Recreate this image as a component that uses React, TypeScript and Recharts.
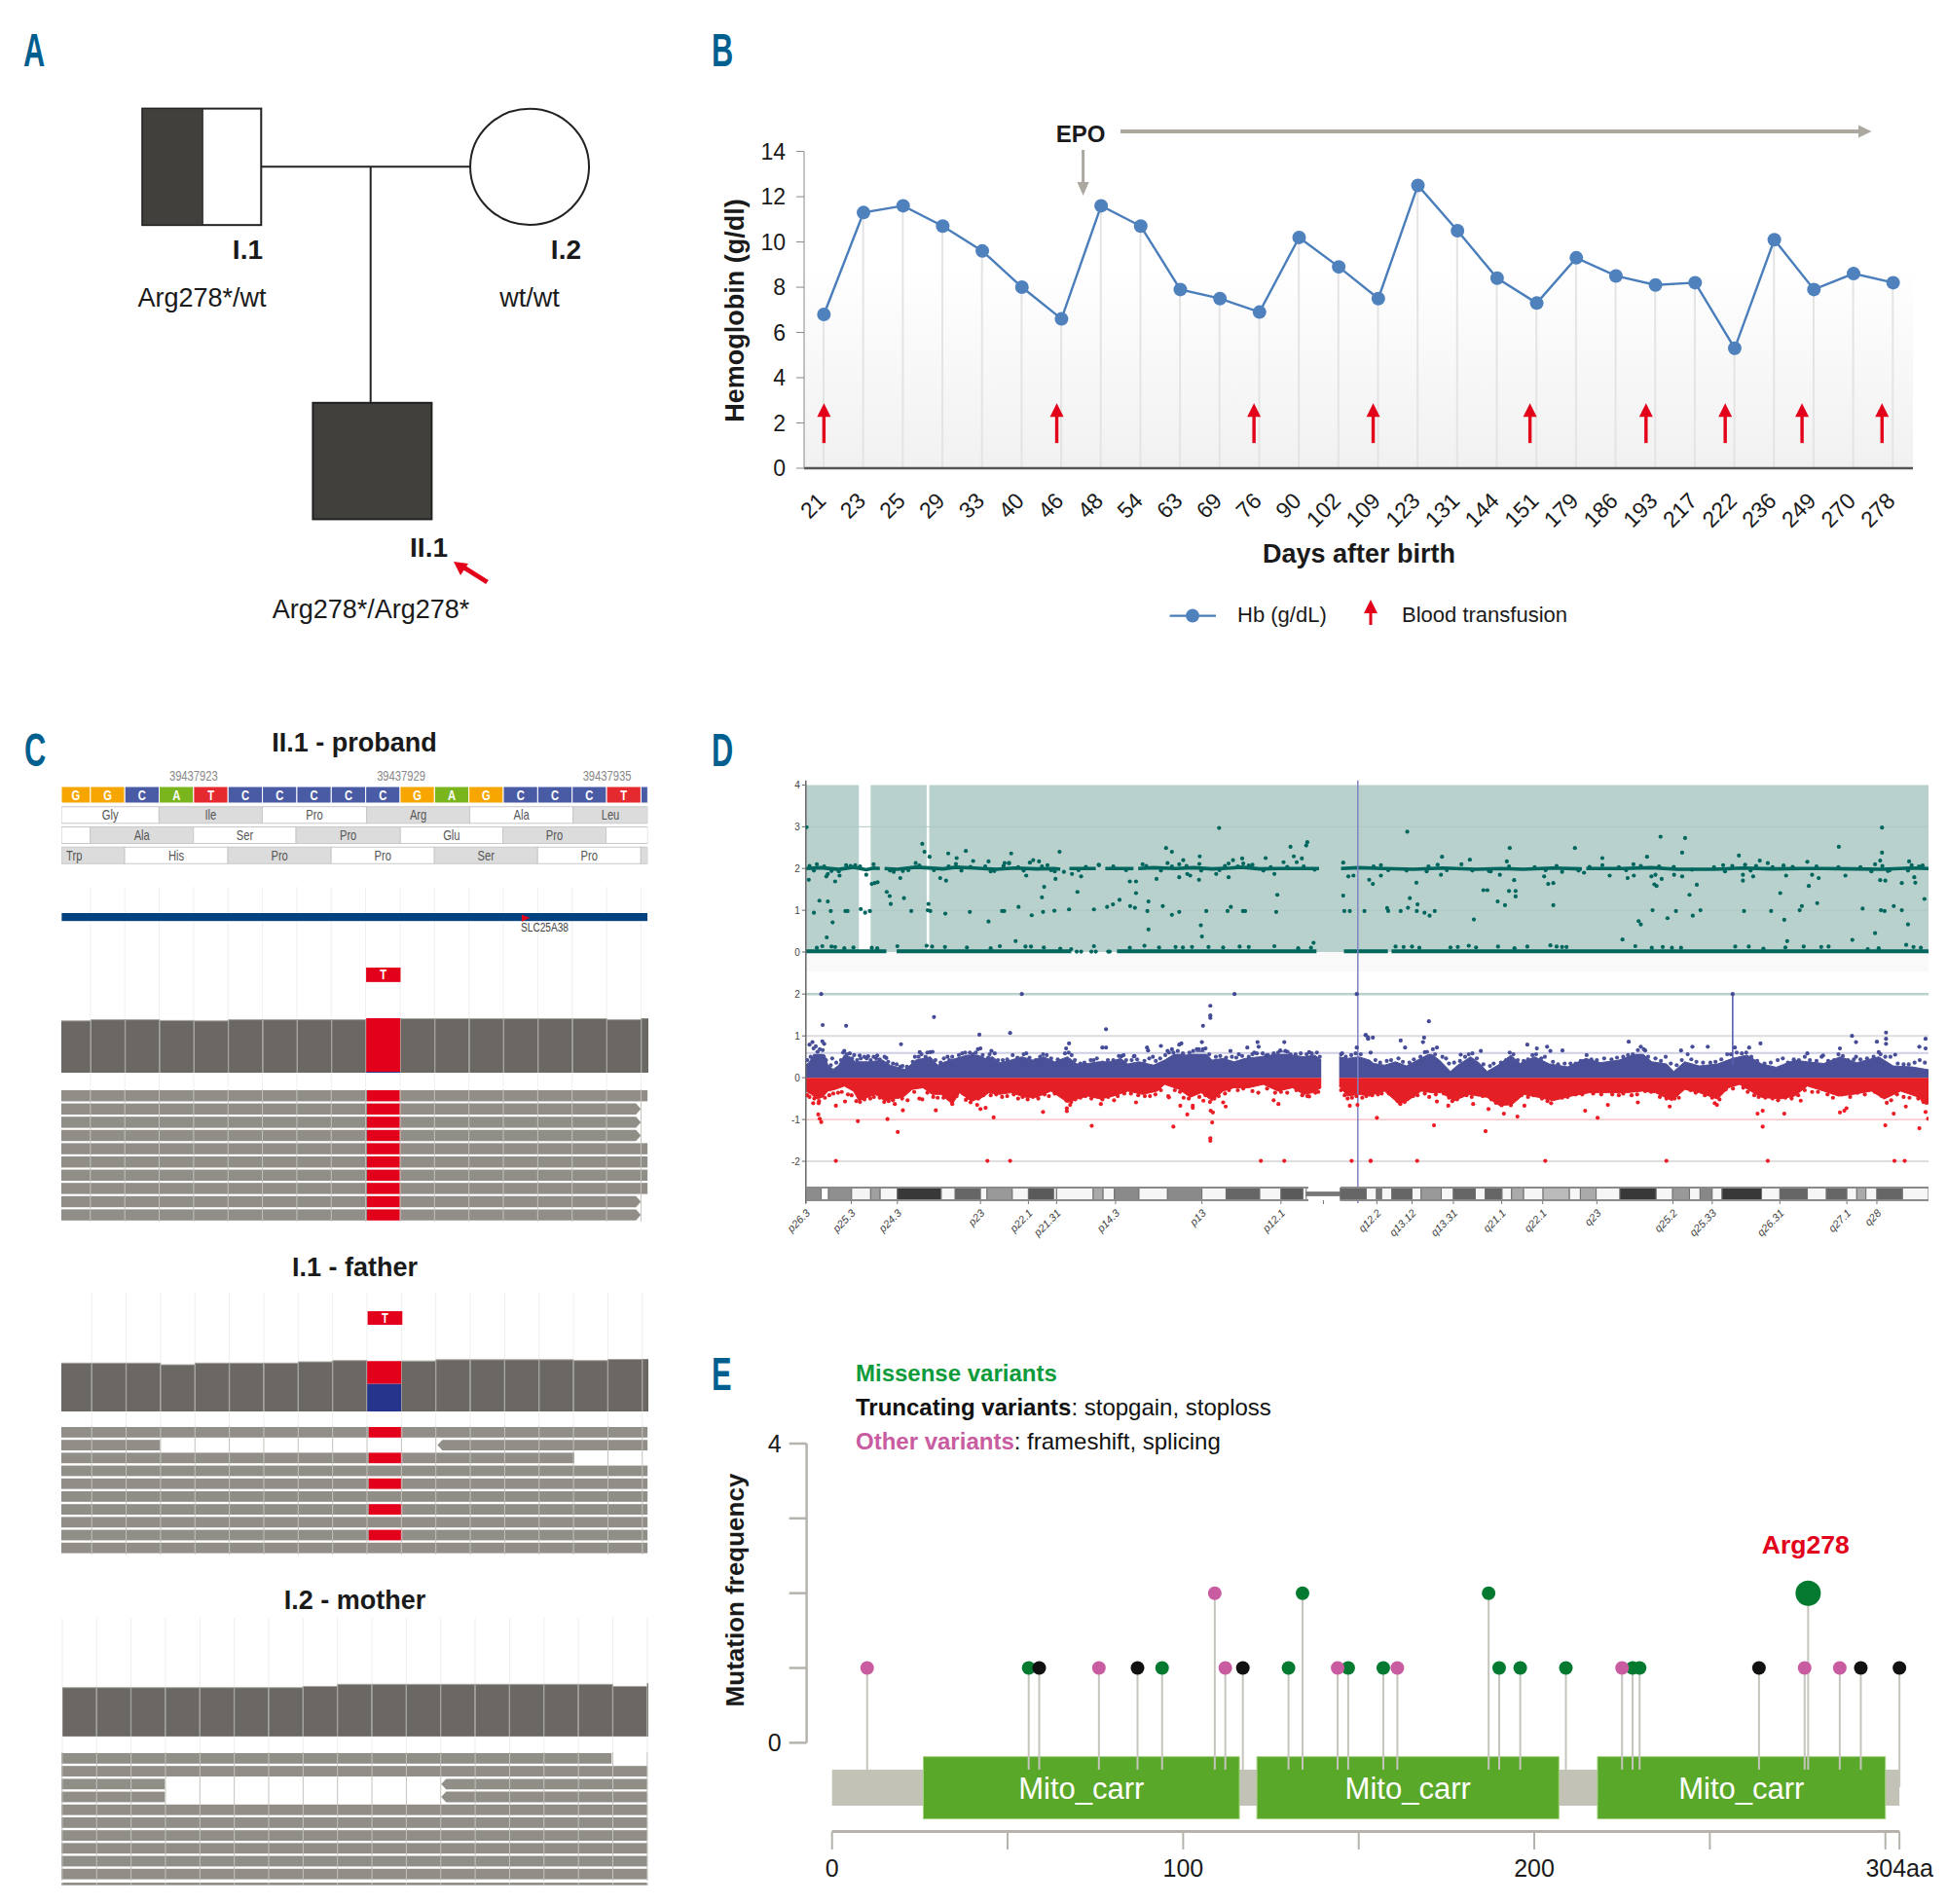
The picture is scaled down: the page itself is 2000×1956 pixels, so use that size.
import React from 'react';
import {
  ComposedChart, BarChart, ScatterChart, Bar, Line, Area, Scatter, XAxis, YAxis,
  ReferenceLine, ReferenceArea,
} from 'recharts';

const SANS = '"Liberation Sans", Arial, sans-serif';
const RED = '#e2001a';

/* ---------- Panel A : pedigree ---------- */
const pedigreeMembers = [
  { x: 0, y: 0, kind: 'carrierMale' },
  { x: 2, y: 0, kind: 'female' },
  { x: 1.04, y: 1, kind: 'affectedMale' },
];

/* ---------- Panel B : haemoglobin ---------- */
const days = ['21','23','25','29','33','40','46','48','54','63','69','76','90','102','109','123','131','144','151','179','186','193','217','222','236','249','270','278'];
const hb = [6.8,11.3,11.6,10.7,9.6,8.0,6.6,11.6,10.7,7.9,7.5,6.9,10.2,8.9,7.5,12.5,10.5,8.4,7.3,9.3,8.5,8.1,8.2,5.3,10.1,7.9,8.6,8.2];
const transfusionSlots = [0.5,6.38,11.36,14.37,18.33,21.26,23.26,25.2,27.22];

/* ---------- Panel C : sequencing tracks ---------- */
const seqBases = ['G','G','C','A','T','C','C','C','C','C','G','A','G','C','C','C','T','C'];
const seqLens = [0.844,1,1,1,1,1,1,1,1,1,1,1,1,1,1,1,1,0.2];
const aaRow1 = [['Gly',2.84,0],['Ile',3,1],['Pro',3.03,0],['Arg',3,1],['Ala',3,0],['Leu',2.17,1]];
const aaRow2 = [['',0.84,0],['Ala',3,1],['Ser',2.98,0],['Pro',3.03,1],['Glu',2.98,0],['Pro',3,1],['',1.21,0]];
const aaRow3 = [['Trp',1.84,1],['His',3,0],['Pro',3,1],['Pro',3,0],['Ser',3,1],['Pro',3,0],['',0.2,1]];
const probandDepth = [136,139,139,137,136,139,139,139,139,143,142,142,142,142,142,142,139,143];
const fatherDepth = [117,117,117,113,117,117,117,120,123,122,122,125,125,125,125,123,126,127];
const motherDepth = [117,117,117,117,117,117,117,120,125,125,125,125,125,125,125,125,120,128];

/* ---------- Panel D : copy-number scatter ---------- */
const WINDOW_B_OFFSET = 1541;
const tealA = [[22,2.99],[28,1.73],[57,1.23],[42,.94],[80,1.21],[88,.98],[93,.71],[77,.35],[100,1.69],[128,.98],[134,.98],[170,1.03],[182,.94],[195,.98],[200,1.63],[208,1.65],[216,1.67],[241,1.44],[249,1.34],[252,1.15],[288,1.29],[308,.98],[278,1.77],[338,2.59],[344,2.4],[358,2.28],[355,1.15],[353,1.0],[360,.98],[387,1.77],[403,1.71],[401,.92],[409,2.36],[432,2.25],[457,2.42],[477,2.18],[468,.96],[519,2.17],[519,.73],[581,2.36],[556,.98],[562,.98],[563,2.13],[575,2.13],[593,.26],[601,1.08],[622,1.83],[632,2.14],[641,2.2],[657,2.17],[637,.88],[665,1.31],[671,1.56],[668,.96],[699,.99],[702,1.75],[713,2.4],[739,1.02],[747,1.87],[762,1.44],[772,1.81],[807,1.02],[807,.14],[821,2.08],[843,1.08],[859,1.14],[877,1.25],[905,1.69],[922,1.69],[922,1.41],[906,1.1],[919,1.06],[956,1.21],[953,.98],[956,.54],[978,1.75],[995,1.1],[1004,2.49],[1020,2.4],[1020,.89],[1040,.96],[1040,1.79],[1051,2.2],[1062,1.87],[1070,1.83],[1094,1.73],[1096,2.29],[1114,.98],[1099,.64],[1102,.37],[1149,2.97],[1141,1.87],[1175,1.79],[1187,2.2],[1172,.98],[1181,1.08],[1212,2.24],[1214,.98],[1220,.98],[1276,2.25],[1300,1.87],[1305,.96],[1308,1.37],[1325,2.15],[1344,2.52],[1353,2.29],[1361,2.15],[1375,2.24],[1387,2.55],[1390,2.63],[1407,.22],[1488,2.14],[1488,1.35],[1491,.98],[1506,.98],[1502,1.81],[1516,1.83],[76,1.81],[80,1.87],[112,1.83],[185,1.85],
  [50,2.1],[130,2.08],[155,2.08],[205,2.1],[320,2.13],[430,2.11],[575,2.13],[680,2.08],[820,2.09],[940,2.1],[1008,2.13],[1040,2.1],[1095,2.11],[1175,2.12],[1215,2.12],[1240,2.09],[260,1.92],[535,1.94],[700,1.93],[725,1.92],[110,1.93],
  [30,2.06],[42,1.95],[70,2.05],[90,1.94],[142,2.06],[168,2.05],[250,1.95],[285,1.94],[300,1.96],[330,2.07],[370,1.96],[410,2.05],[445,1.95],[470,2.04],[510,2.05],[525,1.93],[560,2.06],[600,2.03],[615,1.95],[665,2.05],[690,1.96],[765,1.96],[785,2.04],[860,2.05],[895,1.96],[950,2.06],[990,1.95],[1020,2.05],[1060,2.06],[1100,1.95],[1150,1.96],[1165,2.06],[1200,2.05],[1230,2.07],[1270,1.95],[1290,2.03],[1335,2.04],[1380,2.05],[1410,1.97],
  [50,.1],[65,.14],[90,.13],[100,.12],[125,.09],[150,.11],[200,.1],[215,.09],[270,.14],[350,.15],[365,.13],[400,.12],[460,.11],[525,.09],[550,.14],[620,.13],[635,.13],[670,.11],[715,.08],[745,.07],[905,.1],[945,.15],[985,.11],[1030,.12],[1050,.11],[1075,.12],[1120,.12],[1160,.11],[1205,.13],[1230,.12],[1300,.14],[1365,.09],[1400,.1],
  [760,.01],[772,.01],[800,.01],[812,.01],[846,.01],[850,.01]];
const tealB = [[5,.98],[18,1.73],[28,1.63],[50,1.83],[67,1.05],[70,.98],[104,.98],[122,2.88],[124,1.06],[129,1.29],[147,1.66],[150,1.14],[148,.98],[169,.94],[183,.87],[197,.98],[217,2.28],[214,1.85],[293,2.21],[304,.78],[330,1.48],[341,1.48],[369,1.21],[389,1.12],[375,1.85],[394,2.17],[402,2.49],[400,1.46],[414,1.72],[418,1.46],[418,1.33],[496,1.81],[507,1.63],[521,1.65],[521,1.12],[580,2.49],[605,1.9],[655,2.25],[675,1.83],[710,.3],[724,1.77],[741,1.83],[754,.74],[760,.66],[777,2.28],[789,1.81],[800,1.85],[797,1.62],[803,1.58],[817,1.75],[792,1],[814,2.76],[833,.81],[851,1.85],[856,.98],[873,1.81],[873,2.38],[881,2.73],[893,1.37],[902,.87],[913,1.61],[923,1],[1028,2.31],[1039,1.85],[1039,1.71],[1042,.98],[1067,1.81],[1085,2.19],[1107,2.13],[1116,.98],[1141,1.41],[1152,.77],[1157,1.83],[1160,.26],[1194,1],[1200,1.1],[1219,1.58],[1228,1.85],[1242,1.17],[1246,1.77],[1301,2.52],[1319,1.83],[1338,.29],[1366,1.04],[1400,.45],[1414,1.72],[1428,1.71],[1416,1],[1426,.98],[1419,2.98],[1419,2.38],[1414,2.19],[1451,1.1],[1473,1.65],[1473,1],[1490,.66],[1493,2.17],[1507,1.79],[1510,1.66],[1535,1.27],
  [50,2.08],[205,2.09],[270,2.1],[530,2.06],[655,2.08],[740,2.1],[760,2.06],[985,2.08],[1045,2.09],[1075,2.06],[1150,2.07],[1215,2.16],[1400,2.1],[1500,2.08],[1530,2.07],[175,1.93],[350,1.93],[545,1.92],[990,1.93],[1390,1.93],[1435,1.94],
  [30,2.05],[70,1.96],[120,1.95],[180,2.05],[230,1.96],[300,1.95],[345,1.94],[400,2.05],[470,2.03],[500,1.96],[590,1.95],[620,2.04],[700,2.03],[720,1.96],[810,2.05],[850,2.04],[900,1.97],[960,2.03],[1010,2.06],[1060,1.95],[1120,2.03],[1175,2.04],[1240,2.05],[1300,2.03],[1360,2.03],[1420,2.06],[1440,1.96],[1490,1.95],[1520,2.05],
  [90,.13],[112,.12],[135,.13],[155,.1],[240,.11],[260,.12],[290,.15],[310,.11],[370,.13],[415,.09],[450,.13],[513,.16],[530,.13],[545,.12],[557,.12],[745,.14],[790,.1],[820,.12],[845,.1],[870,.1],[1018,.13],[1055,.13],[1095,.08],[1155,.11],[1205,.13],[1253,.12],[1273,.13],[1380,.07],[1410,.09],[1485,.17],[1505,.12],[1525,.1]];
const twoLine = [[20,2.0],[60,2.02],[110,1.98],[150,2.03],[185,1.97],[205,2.01],[222,2.0],[228,null],[235,2],[270,1.98],[320,2.03],[345,2.02],[395,1.99],[430,2.03],[480,2.01],[540,1.98],[590,2.01],[650,1.99],[700,2.0],[715,1.98],[725,null],[740,2],[800,2],[812,2],[825,null],[838,2],[880,2.0],[915,2],[920,null],[928,2],[970,2.02],[1030,2.0],[1080,2.02],[1130,1.99],[1180,2.01],[1210,2.03],[1260,1.99],[1310,2.0],[1360,2.0],[1422,2.0],[1450,null],[1482,2],[1530,2.02],[1600,2.0],[1680,1.98],[1760,2.01],[1850,1.98],[1920,2.0],[1980,1.98],[2060,2.01],[2140,1.99],[2146,null],[2152,2.0],[2250,2.0],[2330,2.02],[2400,1.98],[2500,1.98],[2580,2.01],[2660,1.99],[2740,2.0],[2800,2.0],[2880,1.99],[2960,1.98],[3040,2.01],[3087,2.0]];
const zeroLine = [[20,.02],[240,.02],[254,null],[268,.02],[700,.02],[745,.02],[790,null],[840,.02],[856,null],[870,.02],[1415,.02],[1450,null],[1490,.02],[1610,.02],[1614,null],[1620,.02],[1990,.02],[2500,.02],[3087,.02]];
const blueA = [[62,2],[610,2],[1191,2],[1525,2],[66,1.26],[130,1.24],[370,1.45],[494,1.03],[578,1.07],[840,1.16],[1125,1.72],[1125,1.49],[1125,1.43],[1105,1.24],[280,.8],[30,.79],[38,.85],[65,.87],[70,.81],[739,.82],[731,.7],[830,.72],[840,.72],[952,.72],[955,.65],[990,.76],[1008,.64],[1020,.68],[1040,.79],[1046,.82],[1102,.85],[1088,.68],[1105,.68],[1254,.85],[1257,.74],[1226,.72],[1327,.85],[1316,.65],[1330,.64],[1395,.61],[1525,.72],[1550,1.02],[1556,.96],[490,.68],[497,.7],[527,.64],[360,.61],[331,.61],[125,.64],[140,.58],[167,.53],[190,.51],[215,.53],[240,.47],[407,.5],[882,.51],[916,.51],[968,.5],[1180,.64],[1203,.56],[1245,.6],[1278,.53],[1485,.58]];
const blueB = [[8,1.02],[15,.93],[28,.96],[104,.89],[116,.72],[168,.96],[165,.85],[181,1.35],[203,.72],[170,.61],[22,.6],[268,.55],[323,.64],[450,.79],[476,.7],[504,.74],[513,.64],[546,.65],[727,.86],[760,.74],[772,.65],[870,.65],[901,.74],[943,.74],[1011,2],[1017,.72],[1056,.72],[1087,.82],[1337,1],[1348,.85],[1405,.86],[1430,1.08],[1430,.93],[1430,.81],[1410,.61],[1304,.7],[1521,.74],[1538,.93],[1538,.7],[1258,.53],[1215,.58],[1348,.5],[1455,.55]];
const blueFringeA = [[24,.42],[33,.5],[41,.7],[47,.75],[52,.62],[58,.68],[66,.66],[75,.42],[88,.3],[92,.46],[103,.36],[116,.42],[122,.6],[132,.56],[146,.46],[152,.54],[160,.42],[170,.46],[180,.5],[186,.46],[197,.42],[205,.5],[212,.46],[222,.44],[235,.5],[245,.38],[258,.34],[268,.32],[278,.26],[284,.28],[296,.26],[312,.38],[318,.5],[328,.5],[336,.56],[347,.5],[352,.6],[366,.62],[374,.42],[388,.36],[397,.46],[412,.42],[420,.5],[438,.54],[447,.58],[455,.6],[468,.6],[476,.56],[484,.6],[503,.54],[518,.48],[522,.56],[536,.58],[545,.42],[558,.42],[570,.44],[585,.54],[598,.48],[606,.42],[615,.56],[622,.58],[631,.48],[648,.42],[660,.5],[668,.56],[678,.54],[690,.46],[708,.44],[716,.4],[728,.58],[738,.6],[746,.54],[755,.42],[770,.34],[781,.36],[798,.42],[806,.42],[815,.46],[830,.36],[845,.42],[860,.42],[875,.52],[888,.54],[895,.42],[910,.42],[918,.52],[925,.44],[945,.4],[958,.46],[976,.4],[988,.46],[1002,.54],[1012,.6],[1024,.6],[1036,.64],[1050,.58],[1068,.6],[1078,.64],[1094,.68],[1112,.7],[1122,.56],[1140,.5],[1152,.52],[1168,.48],[1184,.5],[1196,.48],[1212,.52],[1230,.5],[1240,.56],[1252,.58],[1268,.58],[1282,.54],[1298,.58],[1310,.6],[1336,.62],[1344,.56],[1358,.56],[1372,.58],[1388,.56],[1402,.58],[1416,.6],[1424,.5],[1482,.56],[1495,.5],[1510,.54],[1522,.58],[1536,.56]];
const blueFringeB = [[35,.42],[48,.36],[66,.4],[78,.42],[98,.46],[110,.38],[128,.36],[140,.44],[158,.5],[176,.62],[192,.68],[198,.56],[218,.5],[228,.46],[236,.34],[250,.36],[266,.4],[280,.5],[290,.56],[300,.58],[312,.46],[330,.32],[348,.28],[358,.34],[378,.36],[392,.42],[402,.6],[412,.56],[424,.42],[440,.4],[452,.44],[464,.54],[474,.56],[488,.46],[498,.5],[520,.38],[534,.32],[552,.34],[568,.34],[582,.34],[596,.4],[612,.54],[625,.44],[640,.42],[660,.46],[680,.44],[695,.48],[712,.5],[725,.54],[738,.56],[752,.66],[768,.68],[780,.5],[800,.46],[815,.4],[828,.5],[842,.34],[858,.3],[872,.42],[888,.56],[898,.44],[912,.38],[930,.36],[950,.36],[964,.38],[980,.44],[996,.56],[1006,.56],[1022,.6],[1036,.58],[1048,.6],[1062,.5],[1078,.4],[1098,.34],[1115,.36],[1134,.42],[1148,.46],[1162,.36],[1178,.44],[1192,.42],[1208,.5],[1222,.42],[1240,.4],[1254,.5],[1272,.4],[1288,.42],[1300,.56],[1312,.52],[1326,.42],[1342,.44],[1360,.44],[1378,.46],[1396,.5],[1415,.56],[1428,.5],[1442,.5],[1462,.34],[1478,.32],[1492,.32],[1508,.36],[1522,.42],[1536,.36]];
const redA = [[102,-1.99],[516,-1.99],[578,-1.99],[1263,-1.99],[1327,-1.99],[1511,-1.99],[1563,-1.99],[40,-.61],[55,-.61],[54,-.88],[58,-.98],[62,-1.06],[102,-.67],[127,-.57],[162,-1.04],[243,-.99],[271,-1.3],[263,-.63],[285,-.78],[375,-.78],[420,-.63],[457,-.53],[470,-.59],[488,-.65],[497,-.75],[511,-.72],[533,-.95],[668,-.82],[733,-.73],[733,-.8],[742,-.65],[801,-1.15],[826,-.63],[922,-.59],[1012,-.47],[1024,-1.17],[1043,-.67],[1062,-.88],[1077,-.67],[1077,-.72],[1106,-.55],[1126,-.79],[1132,-.83],[1130,-1.07],[1125,-1.45],[1125,-1.51],[1160,-.59],[1167,-.69],[1298,-.54],[1311,-.63],[1395,-.45],[1500,-.5],[1506,-.67],[1527,-.65]];
const redB = [[22,-1.99],[149,-1.99],[499,-1.99],[830,-1.99],[1107,-1.99],[1453,-1.99],[1481,-1.99],[39,-.96],[103,-.63],[115,-.58],[195,-1.14],[203,-.57],[234,-.67],[302,-.63],[336,-1.28],[344,-.75],[386,-.86],[423,-.93],[442,-.67],[515,-.61],[608,-.79],[642,-.96],[670,-.65],[752,-.59],[839,-.69],[962,-.61],[968,-.65],[1079,-.86],[1093,-.79],[1093,-1.17],[1152,-.86],[1197,-.55],[1304,-.83],[1316,-.79],[1322,-.73],[1428,-1.14],[1451,-.86],[1484,-.69],[1521,-1.21],[1538,-.82],[1545,-.98],[1530,-.53]];
const redFringeA = [[24,-.42],[30,-.46],[43,-.5],[56,-.56],[72,-.48],[84,-.42],[95,-.38],[108,-.36],[118,-.34],[135,-.4],[145,-.42],[158,-.56],[168,-.58],[180,-.52],[196,-.5],[206,-.46],[222,-.48],[234,-.58],[246,-.56],[258,-.54],[272,-.46],[283,-.5],[298,-.54],[316,-.34],[330,-.5],[338,-.52],[352,-.36],[368,-.46],[380,-.48],[396,-.48],[410,-.5],[419,-.58],[432,-.44],[450,-.38],[462,-.48],[476,-.52],[491,-.5],[505,-.42],[525,-.42],[540,-.4],[556,-.46],[570,-.44],[588,-.4],[600,-.5],[612,-.46],[626,-.52],[640,-.46],[655,-.5],[672,-.4],[684,-.44],[700,-.38],[716,-.42],[732,-.55],[745,-.58],[756,-.52],[770,-.48],[784,-.44],[800,-.5],[815,-.44],[830,-.52],[846,-.46],[862,-.54],[872,-.44],[890,-.38],[908,-.38],[928,-.42],[946,-.44],[960,-.44],[975,-.4],[990,-.3],[1010,-.44],[1028,-.3],[1042,-.34],[1052,-.48],[1066,-.5],[1080,-.38],[1095,-.46],[1112,-.42],[1124,-.58],[1136,-.5],[1148,-.44],[1165,-.38],[1176,-.3],[1200,-.3],[1215,-.26],[1240,-.32],[1256,-.36],[1280,-.26],[1302,-.36],[1318,-.34],[1335,-.36],[1360,-.3],[1376,-.42],[1390,-.44],[1412,-.36],[1420,-.34],[1482,-.3],[1492,-.42],[1512,-.48],[1524,-.44],[1540,-.48]];
const redFringeB = [[10,-.44],[26,-.42],[42,-.4],[52,-.38],[72,-.38],[88,-.42],[96,-.56],[110,-.56],[122,-.52],[138,-.44],[150,-.42],[170,-.38],[182,-.46],[200,-.4],[222,-.38],[236,-.48],[245,-.56],[258,-.52],[270,-.44],[284,-.42],[298,-.46],[315,-.4],[328,-.44],[352,-.52],[364,-.6],[380,-.66],[395,-.62],[405,-.66],[420,-.5],[434,-.42],[452,-.46],[468,-.42],[490,-.5],[505,-.56],[528,-.48],[545,-.48],[560,-.46],[582,-.4],[600,-.4],[630,-.38],[652,-.4],[682,-.4],[700,-.42],[712,-.38],[735,-.42],[750,-.4],[772,-.32],[788,-.34],[812,-.46],[830,-.5],[852,-.5],[864,-.48],[896,-.3],[910,-.36],[935,-.42],[955,-.48],[975,-.52],[992,-.28],[1012,-.26],[1040,-.24],[1052,-.34],[1070,-.42],[1082,-.46],[1100,-.48],[1120,-.5],[1135,-.54],[1155,-.48],[1172,-.5],[1190,-.42],[1208,-.3],[1228,-.34],[1244,-.34],[1270,-.4],[1285,-.48],[1310,-.4],[1332,-.46],[1352,-.36],[1372,-.4],[1400,-.34],[1418,-.44],[1432,-.6],[1444,-.54],[1460,-.4],[1478,-.46],[1494,-.48],[1518,-.5],[1532,-.58],[1540,-.6]];
const blueEnvelopeA = [[20,.3],[30,.38],[45,.61],[60,.58],[72,.54],[80,.3],[95,.2],[110,.3],[125,.54],[140,.5],[155,.38],[175,.38],[190,.38],[210,.4],[230,.42],[250,.3],[270,.25],[290,.2],[305,.3],[320,.42],[340,.46],[360,.5],[380,.3],[400,.38],[430,.46],[460,.54],[490,.54],[510,.46],[530,.5],[550,.36],[580,.42],[610,.5],[640,.42],[670,.5],[700,.38],[735,.5],[760,.33],[790,.34],[820,.38],[850,.38],[880,.46],[900,.33],[930,.38],[970,.3],[1000,.42],[1030,.58],[1060,.54],[1085,.61],[1105,.65],[1130,.42],[1160,.46],[1190,.38],[1220,.46],[1260,.5],[1290,.54],[1320,.64],[1350,.54],[1380,.5],[1410,.54],[1428,.42],[1450,null],[1477,.5],[1500,.46],[1530,.5]];
const blueEnvelopeB = [[19,.42],[30,.34],[60,.3],[90,.38],[120,.28],[150,.42],[185,.58],[210,.42],[240,.15],[260,.3],[295,.5],[320,.34],[340,.15],[370,.3],[405,.54],[430,.34],[470,.5],[510,.33],[560,.26],[610,.46],[650,.36],[700,.42],[760,.61],[790,.38],[830,.33],[850,.15],[880,.38],[920,.28],[970,.33],[1010,.46],[1050,.54],[1090,.33],[1130,.25],[1180,.42],[1215,.38],[1260,.34],[1305,.5],[1350,.36],[1410,.5],[1450,.28],[1500,.26],[1546,.19]];
const redEnvelopeA = [[20,-.32],[35,-.4],[50,-.51],[65,-.47],[80,-.32],[100,-.28],[125,-.2],[150,-.32],[165,-.55],[190,-.47],[210,-.4],[235,-.55],[260,-.51],[290,-.44],[310,-.28],[340,-.24],[365,-.4],[390,-.4],[420,-.63],[440,-.36],[470,-.55],[495,-.51],[520,-.36],[550,-.4],[580,-.36],[620,-.47],[650,-.47],[690,-.32],[735,-.59],[760,-.51],[790,-.44],[825,-.51],[860,-.44],[900,-.32],[940,-.4],[980,-.32],[1000,-.16],[1040,-.28],[1070,-.47],[1100,-.36],[1130,-.55],[1160,-.32],[1190,-.24],[1230,-.24],[1270,-.16],[1310,-.32],[1350,-.24],[1380,-.4],[1405,-.36],[1428,-.24],[1450,null],[1477,-.2],[1500,-.44],[1530,-.4]];
const redEnvelopeB = [[19,-.44],[30,-.4],[60,-.32],[100,-.63],[130,-.51],[160,-.32],[190,-.36],[215,-.36],[250,-.55],[290,-.4],[340,-.47],[375,-.67],[410,-.63],[440,-.4],[480,-.47],[520,-.55],[570,-.44],[620,-.36],[670,-.36],[720,-.36],[765,-.32],[800,-.36],[845,-.55],[880,-.28],[920,-.36],[970,-.51],[1000,-.24],[1030,-.16],[1060,-.32],[1090,-.47],[1140,-.51],[1180,-.44],[1215,-.2],[1260,-.32],[1300,-.44],[1340,-.4],[1390,-.32],[1425,-.51],[1470,-.32],[1510,-.44],[1546,-.63]];
const ideogramEdges = [20,62,82,145,197,223,270,390,428,497,515,584,628,697,705,805,832,863,930,1008,1102,1168,1260,1318,1378,1387,1480,1551,1579,1593,1621,1676,1701,1756,1789,1849,1876,1922,1948,1981,2034,2106,2136,2179,2244,2343,2388,2434,2463,2496,2523,2631,2681,2756,2808,2864,2891,2916,2946,3016,3087];
const ideogramShades = ['#8c8c8c','#fff','#8f8f8f','#f4f4f4','#a0a0a0','#f6f6f6','#383838','#f6f6f6','#666','#f6f6f6','#999','#f6f6f6','#5a5a5a','#f0f0f0','#f6f6f6','#aaa','#f6f6f6','#8a8a8a','#f6f6f6','#8a8a8a','#f6f6f6','#666','#f6f6f6','#5a5a5a','#f6f6f6','cen','#666','#f6f6f6','#777','#f6f6f6','#666','#f6f6f6','#999','#f6f6f6','#666','#f6f6f6','#666','#f6f6f6','#aaa','#f6f6f6','#bbb','#f6f6f6','#aaa','#f6f6f6','#383838','#f6f6f6','#999','#f6f6f6','#888','#f6f6f6','#383838','#f6f6f6','#666','#f6f6f6','#666','#f6f6f6','#aaa','#f6f6f6','#666','#f6f6f6'];
const cytoTicks = [20,144,270,497,628,705,866,1102,1318,1434,1580,1676,1789,1921,2033,2181,2389,2496,2681,2864,2946];
const cytoLabels = ['p26.3','p25.3','p24.3','p23','p22.1','p21.31','p14.3','p13','p12.1','','q12.2','q13.12','q13.31','q21.1','q22.1','q23','q25.2','q25.33','q26.31','q27.1','q28'];

/* ---------- Panel E : lollipops ---------- */
const missense = [[56,1],[94,1],[130,1],[134,2],[147,1],[157,1],[187,2],[190,1],[196,1],[209,1],[228,1],[230,1]];
const truncating = [[59,1],[87,1],[117,1],[264,1],[293,1],[304,1]];
const otherVariants = [[10,1],[76,1],[109,2],[112,1],[144,1],[161,1],[225,1],[277,1],[287,1]];
const hotspot = [[278,2]];
const domains = [[26,116],[121,207],[218,300]];
const proteinTicks = [0,50,100,150,200,250,300,304];
const proteinTickLabels = ['0','','100','','200','','','304aa'];

const toXY = (pts: any[], off = 0) => pts.map(([x, y]) => ({ x: x + off, y }));

/* ---------- helpers ---------- */
const M0 = { top: 0, right: 0, bottom: 0, left: 0 };
const READ = '#918e87';
const COV = '#6b6864';
const BASE_PX = 35.35;
const TOTAL = 602.4 / BASE_PX;
const C_LEFT = 63.4;
const C_WIDTH = 602.4;

const segShape = (seg: any, p: any) => {
  if (!seg || seg.fill === 'none') return <g />;
  const { x, y, width: w, height: h } = p;
  let mark;
  if (seg.tip === 'r') mark = <polygon points={`${x},${y} ${x + w - 5},${y} ${x + w},${y + h / 2} ${x + w - 5},${y + h} ${x},${y + h}`} fill={seg.fill} />;
  else if (seg.tip === 'l') mark = <polygon points={`${x + 5},${y} ${x + w},${y} ${x + w},${y + h} ${x + 5},${y + h} ${x},${y + h / 2}`} fill={seg.fill} />;
  else mark = <rect x={x} y={y} width={w} height={h} fill={seg.fill} stroke={seg.stroke || 'none'} strokeWidth={seg.stroke ? 1 : 0} />;
  const tx = seg.labelLeft ? x + 5 : x + w / 2;
  const ty = y + h / 2 + 5;
  return (
    <g>
      {mark}
      {seg.label ? (
        <text transform={`translate(${tx} ${ty}) scale(0.8 1)`} textAnchor={seg.labelLeft ? 'start' : 'middle'} fontSize={14} fontFamily={SANS} fontWeight={seg.bold ? 700 : 400} fill={seg.color || '#555'}>
          {seg.label}
        </text>
      ) : null}
    </g>
  );
};

function SegRows({ rows, top, step, barH, seps = [], sepColor = '#c4c2bd', left = C_LEFT, width = C_WIDTH, total = TOTAL }: any) {
  const maxSegs = Math.max(...rows.map((r: any[]) => r.length));
  const data = rows.map((r: any[], i: number) => {
    const d: any = { row: i };
    r.forEach((s, k) => { d['s' + k] = s.len; });
    return d;
  });
  const keys = Array.from({ length: maxSegs }, (_, k) => k);
  return (
    <div style={{ position: 'absolute', left, top }}>
      <BarChart layout="vertical" width={width} height={rows.length * step} data={data} margin={M0} barCategoryGap={0}>
        <XAxis type="number" domain={[0, total]} hide allowDataOverflow />
        <YAxis type="category" dataKey="row" hide />
        {keys.map((k) => (
          <Bar key={k} dataKey={'s' + k} stackId="a" barSize={barH} isAnimationActive={false}
            shape={(p: any) => segShape(rows[p.payload.row][k], p)} />
        ))}
        {seps.map((x: number) => <ReferenceLine key={x} x={x} stroke={sepColor} strokeWidth={1} />)}
      </BarChart>
    </div>
  );
}

const edges = (first: number) => Array.from({ length: 18 }, (_, k) => first + k).filter((v) => v > 0 && v < TOTAL);

function Coverage({ depth, bottom, factor, innerLeft, alt }: any) {
  const maxD = Math.max(...depth);
  const height = maxD / factor;
  const data = depth.map((d: number, i: number) => alt && i === alt.index
    ? { base: i, other: 0, refAllele: alt.ref, altAllele: alt.alt }
    : { base: i, other: d, refAllele: 0, altAllele: 0 });
  return (
    <div style={{ position: 'absolute', left: C_LEFT, top: bottom - height, width: C_WIDTH, height, overflow: 'hidden' }}>
      <div style={{ position: 'absolute', left: innerLeft, top: 0 }}>
        <BarChart width={depth.length * BASE_PX} height={height} data={data} margin={M0} barCategoryGap={0} barGap={0}>
          <XAxis dataKey="base" hide />
          <YAxis domain={[0, maxD]} hide />
          <Bar dataKey="other" stackId="c" fill={COV} stroke="#a8a6a1" strokeWidth={1} isAnimationActive={false} />
          <Bar dataKey="refAllele" stackId="c" fill="#27348b" isAnimationActive={false} />
          <Bar dataKey="altAllele" stackId="c" fill={RED} isAnimationActive={false} />
        </BarChart>
      </div>
    </div>
  );
}

const grey = (len: number, tip?: string) => ({ len, fill: READ, tip });
const gap = (len: number) => ({ len, fill: 'none' });
const alt = (len: number) => ({ len, fill: RED });
const redFill = (len: number) => ({ len, fill: RED, label: 'T', color: '#fff', bold: true });

const pA = [grey(8.883), alt(0.974), grey(7.183)];
const pR = [grey(8.883), alt(0.974), grey(6.983, 'r')];
const probandReads = [pA, pR, pR, pR, pA, pA, pA, pA, pR, pR];
const fAlt = [grey(8.935), alt(0.974), grey(7.13)];
const fRef = [grey(TOTAL)];
const fatherReads = [fAlt, [grey(2.87), gap(8.06), grey(6.11, 'l')], [grey(8.935), alt(0.974), grey(5.0)], fRef, fAlt, fRef, fAlt, fRef, fAlt, fRef];
const mGap = [grey(3.01), gap(8.03), grey(6.0, 'l')];
const motherReads = [[grey(15.99)], fRef, mGap, mGap, fRef, fRef, fRef, fRef, fRef, fRef];

const seqColor: any = { G: '#f7a600', C: '#4a5ba5', A: '#7ab51d', T: '#e52a2f' };
const seqRow = seqBases.map((b, i) => ({ len: seqLens[i], fill: seqColor[b], label: i === 17 ? '' : b, color: '#fff', bold: true, stroke: '#fff' }));
const aaSegs = (r: any[]) => r.map(([label, len, shade]) => ({ len, label, color: '#555', fill: shade ? '#dcdcdc' : '#fff', stroke: '#c8c8c8', labelLeft: label === 'Trp' }));

/* ---------- overlay text helper ---------- */
const T = ({ x, y, s, b, a, c, sx, r, children }: any) => (
  <text x={sx ? 0 : x} y={sx ? 0 : y} fontSize={s} fontWeight={b ? 700 : 400} textAnchor={a || 'start'} fill={c || '#1a1a1a'} fontFamily={SANS}
    transform={sx ? `translate(${x} ${y}) scale(${sx} 1)` : r ? `rotate(${r} ${x} ${y})` : undefined}>{children}</text>
);
const Letter = ({ x, y, children }: any) => <T x={x} y={y} s={48} b c="#005f8f" sx={0.64}>{children}</T>;

/* ---------- panels ---------- */
function Pedigree() {
  const shape = (p: any) => {
    const { cx, cy, payload } = p;
    if (payload.kind === 'female') return <ellipse cx={cx} cy={cy} rx={61} ry={59.6} fill="#fff" stroke="#222" strokeWidth={2} />;
    const half = payload.kind === 'carrierMale';
    return (
      <g>
        <rect x={cx - 61} y={cy - 59.8} width={122} height={119.6} fill={half ? '#fff' : '#42403c'} stroke="#222" strokeWidth={2} />
        {half ? <rect x={cx - 61} y={cy - 59.8} width={62} height={119.6} fill="#42403c" stroke="#222" strokeWidth={1} /> : null}
      </g>
    );
  };
  return (
    <div style={{ position: 'absolute', left: 0, top: 0 }}>
      <ScatterChart width={720} height={700} margin={M0}>
        <XAxis type="number" dataKey="x" domain={[-1.231, 3.045]} hide />
        <YAxis type="number" dataKey="y" domain={[-0.567, 1.749]} reversed hide />
        <ReferenceLine segment={[{ x: 0, y: 0 }, { x: 2, y: 0 }]} stroke="#222" strokeWidth={2} />
        <ReferenceLine segment={[{ x: 1.03, y: 0 }, { x: 1.03, y: 0.8 }]} stroke="#222" strokeWidth={2} />
        <Scatter data={pedigreeMembers} isAnimationActive={false} shape={shape} />
      </ScatterChart>
    </div>
  );
}

const RotTickB = ({ x, y, payload }: any) => (
  <text x={x + 3.5} y={y + 27} textAnchor="end" fontSize={23} fontFamily={SANS} fill="#1a1a1a" transform={`rotate(-45 ${x + 3.5} ${y + 27})`}>{payload.value}</text>
);

function HbChart() {
  const data = days.map((d, i) => ({ day: d, hb: hb[i] }));
  return (
    <>
      <div style={{ position: 'absolute', left: 720, top: 100 }}>
        <ComposedChart width={1245} height={461} data={data} margin={{ top: 55.6, right: 0, bottom: 0, left: 0 }}>
          <defs>
            <linearGradient id="hbShade" x1="0" y1="0" x2="0" y2="1">
              <stop offset="0%" stopColor="#fff" />
              <stop offset="100%" stopColor="#f1f1f1" />
            </linearGradient>
          </defs>
          <ReferenceArea y1={0} y2={9} fill="url(#hbShade)" fillOpacity={1} stroke="none" />
          <XAxis dataKey="day" height={80} interval={0} tickLine={false} axisLine={{ stroke: '#555', strokeWidth: 2.5 }} tick={<RotTickB />} />
          <YAxis width={106} domain={[0, 14]} ticks={[0, 2, 4, 6, 8, 10, 12, 14]} tickSize={8} tickMargin={11}
            tick={{ fontSize: 23, fill: '#1a1a1a', fontFamily: SANS }} axisLine={{ stroke: '#888' }} tickLine={{ stroke: '#888' }} />
          <Bar dataKey="hb" barSize={2} fill="#e4e4e4" isAnimationActive={false} />
          <Line dataKey="hb" stroke="#4a7ebb" strokeWidth={2.4} isAnimationActive={false} dot={{ r: 7, fill: '#4f81bd', stroke: '#4f81bd', strokeWidth: 0 }} />
        </ComposedChart>
      </div>
      <div style={{ position: 'absolute', left: 826, top: 155.6 }}>
        <ScatterChart width={1139} height={325.4} margin={M0}>
          <XAxis type="number" dataKey="x" domain={[0, 28]} hide />
          <YAxis type="number" dataKey="y" domain={[0, 14]} hide />
          <Scatter data={transfusionSlots.map((x) => ({ x, y: 1.13 }))} isAnimationActive={false}
            shape={(p: any) => (
              <g>
                <rect x={p.cx - 1.7} y={p.cy - 30} width={3.4} height={30} fill={RED} />
                <polygon points={`${p.cx},${p.cy - 41} ${p.cx + 7},${p.cy - 27} ${p.cx - 7},${p.cy - 27}`} fill={RED} />
              </g>
            )} />
        </ScatterChart>
      </div>
    </>
  );
}

const dotShape = (fill: string) => (p: any) => <circle cx={p.cx} cy={p.cy} r={2.1} fill={fill} />;
const D_X = [20, 3087];
const STICK_X = 1528;

function TealChart() {
  const pts = [...toXY(tealA), ...toXY(tealB, WINDOW_B_OFFSET)];
  return (
    <div style={{ position: 'absolute', left: 780, top: 790 }}>
      <ComposedChart width={1201} height={210} margin={{ top: 11.7, right: 0, bottom: 0, left: 0 }}>
        <XAxis type="number" dataKey="x" domain={D_X} allowDataOverflow hide />
        <YAxis width={47.8} type="number" dataKey="y" domain={[-0.513, 4.11]} ticks={[0, 1, 2, 3, 4]} allowDataOverflow
          tickSize={4} tickMargin={2} tick={{ fontSize: 10, fill: '#444', fontFamily: SANS }} axisLine={{ stroke: '#666', strokeWidth: 1.5 }} tickLine={{ stroke: '#666' }} />
        <ReferenceArea x1={20} x2={165} y1={0} y2={4} fill="#b9d1cd" fillOpacity={1} stroke="none" />
        <ReferenceArea x1={197} x2={350} y1={0} y2={4} fill="#b9d1cd" fillOpacity={1} stroke="none" />
        <ReferenceArea x1={357} x2={3087} y1={0} y2={4} fill="#b9d1cd" fillOpacity={1} stroke="none" />
        <ReferenceArea x1={20} x2={3087} y1={-0.47} y2={0} fill="#f9f9f9" fillOpacity={1} stroke="none" />
        <ReferenceLine y={3} stroke="#afc9c4" strokeWidth={1} />
        <ReferenceLine y={1} stroke="#afc9c4" strokeWidth={1} />
        <Line data={toXY(twoLine)} dataKey="y" stroke="#00665e" strokeWidth={3.6} dot={false} isAnimationActive={false} />
        <Line data={toXY(zeroLine)} dataKey="y" stroke="#00665e" strokeWidth={4} dot={false} isAnimationActive={false} />
        <Scatter data={pts} isAnimationActive={false} shape={dotShape('#00665e')} />
        <ReferenceLine x={STICK_X} stroke="#7e83c4" strokeWidth={1.5} />
      </ComposedChart>
    </div>
  );
}

function RatioChart() {
  const blue = [...toXY(blueA), ...toXY(blueB, WINDOW_B_OFFSET)];
  const blueFringe = [...toXY(blueFringeA), ...toXY(blueFringeB, WINDOW_B_OFFSET)];
  const red = [...toXY(redA), ...toXY(redB, WINDOW_B_OFFSET)];
  const redFringe = [...toXY(redFringeA), ...toXY(redFringeB, WINDOW_B_OFFSET)];
  const blueEnv = [...toXY(blueEnvelopeA), ...toXY(blueEnvelopeB, WINDOW_B_OFFSET)];
  const redEnv = [...toXY(redEnvelopeA), ...toXY(redEnvelopeB, WINDOW_B_OFFSET)];
  return (
    <div style={{ position: 'absolute', left: 780, top: 1000 }}>
      <ComposedChart width={1201} height={236} margin={M0}>
        <XAxis type="number" dataKey="x" domain={D_X} allowDataOverflow hide />
        <YAxis width={47.8} type="number" dataKey="y" domain={[-3.0, 2.494]} ticks={[-2, -1, 0, 1, 2]} allowDataOverflow
          tickSize={4} tickMargin={2} tick={{ fontSize: 10, fill: '#444', fontFamily: SANS }} axisLine={{ stroke: '#666', strokeWidth: 1.5 }} tickLine={{ stroke: '#666' }} />
        <ReferenceLine y={2} stroke="#b9d1cd" strokeWidth={2.5} />
        <ReferenceLine y={1} stroke="#dedede" strokeWidth={2} />
        <ReferenceLine y={0.59} stroke="#cfcfe8" strokeWidth={2} />
        <ReferenceLine y={-1} stroke="#f2a9a9" strokeWidth={1} />
        <ReferenceLine y={-2} stroke="#dedede" strokeWidth={2} />
        <Area data={blueEnv} dataKey="y" baseValue={0} fill="#4a5199" fillOpacity={1} stroke="#4a5199" strokeWidth={1} isAnimationActive={false} />
        <Area data={redEnv} dataKey="y" baseValue={0} fill="#e41f26" fillOpacity={1} stroke="#e41f26" strokeWidth={1} isAnimationActive={false} />
        <Scatter data={blueFringe} isAnimationActive={false} shape={dotShape('#4a5199')} />
        <Scatter data={redFringe} isAnimationActive={false} shape={dotShape('#e41f26')} />
        <Scatter data={blue} isAnimationActive={false} shape={dotShape('#454b96')} />
        <Scatter data={red} isAnimationActive={false} shape={dotShape('#ee1c25')} />
        <ReferenceLine segment={[{ x: 2552, y: 0.3 }, { x: 2552, y: 2 }]} stroke="#5a5fb0" strokeWidth={1.6} />
        <ReferenceLine x={STICK_X} stroke="#7e83c4" strokeWidth={1.5} />
      </ComposedChart>
    </div>
  );
}

const CytoTick = ({ x, y, index }: any) => {
  const label = cytoLabels[index];
  if (!label) return <g />;
  const px = x + 5; const py = y + 8;
  return <text x={px} y={py} textAnchor="end" fontSize={11} fontStyle="italic" fontFamily={SANS} fill="#444" transform={`rotate(-45 ${px} ${py})`}>{label}</text>;
};

function Ideogram() {
  const segs = [{ len: 20, fill: 'none' }, ...ideogramShades.map((fill, i) => ({ len: ideogramEdges[i + 1] - ideogramEdges[i], fill }))];
  const row: any = { row: 0 };
  segs.forEach((s, k) => { row['s' + k] = s.len; });
  const shape = (k: number) => (p: any) => {
    const s = segs[k];
    if (s.fill === 'none') return <g />;
    if (s.fill === 'cen') return <rect x={p.x} y={p.y + p.height * 0.36} width={p.width} height={p.height * 0.28} fill="#777" stroke="#777" />;
    return <rect x={p.x} y={p.y} width={p.width} height={p.height} fill={s.fill} stroke="#6f6f6f" strokeWidth={1} />;
  };
  return (
    <div style={{ position: 'absolute', left: 780, top: 1220 }}>
      <BarChart layout="vertical" width={1201} height={65} data={[row]} margin={{ top: 0, right: 0, bottom: 0, left: 47.8 }} barCategoryGap={0}>
        <XAxis type="number" domain={D_X} allowDataOverflow height={52} ticks={cytoTicks} interval={0} axisLine={false} tickSize={4} tickLine={{ stroke: '#777' }} tick={<CytoTick />} />
        <YAxis type="category" dataKey="row" hide />
        {segs.map((_, k) => <Bar key={k} dataKey={'s' + k} stackId="i" isAnimationActive={false} shape={shape(k)} />)}
      </BarChart>
    </div>
  );
}

function Lollipops() {
  const all = [...missense, ...truncating, ...otherVariants, ...hotspot];
  const dot = (fill: string, r: number) => (p: any) => <circle cx={p.cx} cy={p.cy} r={r} fill={fill} />;
  return (
    <div style={{ position: 'absolute', left: 720, top: 1380 }}>
      <ComposedChart width={1280} height={576} margin={{ top: 103, right: 20, bottom: 0, left: 0 }}>
        <XAxis type="number" dataKey="x" domain={[-7.24, 312]} allowDataOverflow height={74.5} ticks={proteinTicks} interval={0}
          axisLine={false} tickSize={18.5} tickMargin={10} tickLine={{ stroke: '#b5b3ac', strokeWidth: 2 }}
          tickFormatter={(v: number) => proteinTickLabels[proteinTicks.indexOf(v)]}
          tick={{ fontSize: 25, fill: '#1a1a1a', fontFamily: SANS }} />
        <YAxis width={108.6} type="number" dataKey="y" domain={[-1.186, 4]} allowDataOverflow ticks={[0, 1, 2, 3, 4]} axisLine={false} tickSize={18} tickMargin={8}
          tickLine={{ stroke: '#b5b3ac', strokeWidth: 2.5 }} tickFormatter={(v: number) => (v === 0 || v === 4 ? String(v) : '')}
          tick={{ fontSize: 25, fill: '#1a1a1a', fontFamily: SANS }} />
        <ReferenceLine segment={[{ x: -7.24, y: 0 }, { x: -7.24, y: 4 }]} stroke="#b5b3ac" strokeWidth={2.5} />
        <ReferenceLine segment={[{ x: 0, y: -1.186 }, { x: 304, y: -1.186 }]} stroke="#b5b3ac" strokeWidth={3} />
        <ReferenceArea x1={0} x2={304} y1={-0.84} y2={-0.36} fill="#c3c2b7" fillOpacity={1} stroke="none" />
        {all.map(([x, y]) => (
          <ReferenceLine key={x} segment={[{ x, y: x === 304 ? -0.59 : -0.36 }, { x, y }]} stroke="#c5c5bd" strokeWidth={2} />
        ))}
        {domains.map(([a, b]) => (
          <ReferenceArea key={a} x1={a} x2={b} y1={-1.018} y2={-0.186} fill="#5aa829" fillOpacity={1} stroke="#a4d17f"
            label={{ value: 'Mito_carr', position: 'center', fill: '#fff', fontSize: 31, fontFamily: SANS }} />
        ))}
        <Scatter data={toXY(missense)} isAnimationActive={false} shape={dot('#047a31', 7)} />
        <Scatter data={toXY(truncating)} isAnimationActive={false} shape={dot('#111', 7)} />
        <Scatter data={toXY(otherVariants)} isAnimationActive={false} shape={dot('#c95ba1', 7)} />
        <Scatter data={toXY(hotspot)} isAnimationActive={false} shape={dot('#047a31', 13)} />
      </ComposedChart>
    </div>
  );
}

function Overlay() {
  return (
    <svg width={2000} height={1956} style={{ position: 'absolute', left: 0, top: 0, pointerEvents: 'none' }}>
      <Letter x={24} y={68}>A</Letter>
      <Letter x={731} y={68}>B</Letter>
      <Letter x={25} y={787}>C</Letter>
      <Letter x={731} y={787}>D</Letter>
      <Letter x={731} y={1428}>E</Letter>

      <T x={270} y={265.6} s={28} b a="end">I.1</T>
      <T x={597} y={265.6} s={28} b a="end">I.2</T>
      <T x={460} y={571.5} s={28} b a="end">II.1</T>
      <T x={207.5} y={315} s={27} a="middle">Arg278*/wt</T>
      <T x={544} y={315} s={27} a="middle">wt/wt</T>
      <T x={381} y={635} s={27} a="middle">Arg278*/Arg278*</T>
      <line x1={500.5} y1={598} x2={475} y2={582} stroke={RED} strokeWidth={5} />
      <polygon points="466,577 481,579 473,591" fill={RED} />

      <T x={1110} y={146} s={24} b a="middle">EPO</T>
      <line x1={1151} y1={135} x2={1912} y2={135} stroke="#aaa89f" strokeWidth={4} />
      <polygon points="1922.5,135 1909,128.5 1909,141.5" fill="#aaa89f" />
      <line x1={1112.6} y1={154} x2={1112.6} y2={190} stroke="#aaa89f" strokeWidth={3} />
      <polygon points="1112.6,201 1106.5,187 1118.7,187" fill="#aaa89f" />
      <T x={764} y={319} s={27} b a="middle" r={-90}>Hemoglobin (g/dl)</T>
      <T x={1396} y={578} s={27} b a="middle">Days after birth</T>
      <line x1={1201.6} y1={632.6} x2={1249} y2={632.6} stroke="#4a7ebb" strokeWidth={2.4} />
      <circle cx={1225} cy={632.6} r={7} fill="#4f81bd" />
      <T x={1271} y={639} s={22}>Hb (g/dL)</T>
      <rect x={1406.5} y={626} width={3} height={16} fill={RED} />
      <polygon points="1408,616 1415,630 1401,630" fill={RED} />
      <T x={1440} y={639} s={22}>Blood transfusion</T>

      <T x={364} y={772} s={27} b a="middle">II.1 - proband</T>
      <T x={364.5} y={1311} s={27} b a="middle">I.1 - father</T>
      <T x={364.5} y={1653} s={27} b a="middle">I.2 - mother</T>
      <T x={198.8} y={802} s={14} a="middle" c="#888" sx={0.8}>39437923</T>
      <T x={412} y={802} s={14} a="middle" c="#888" sx={0.8}>39437929</T>
      <T x={623.5} y={802} s={14} a="middle" c="#888" sx={0.8}>39437935</T>
      <polygon points="536,939.6 544.5,943 536,946.7" fill={RED} />
      <T x={535} y={957} s={13} c="#444" sx={0.78}>SLC25A38</T>

      <line x1={828} y1={1220} x2={1344} y2={1220} stroke="#8a8a8a" strokeWidth={2} />
      <line x1={828} y1={1233} x2={1344} y2={1233} stroke="#8a8a8a" strokeWidth={2} />
      <line x1={1377} y1={1220} x2={1981} y2={1220} stroke="#8a8a8a" strokeWidth={2} />
      <line x1={1377} y1={1233} x2={1981} y2={1233} stroke="#8a8a8a" strokeWidth={2} />

      <T x={879} y={1418.6} s={24} b c="#0d9b3c">Missense variants</T>
      <text x={879} y={1453.5} fontSize={24} fontFamily={SANS} fill="#111"><tspan fontWeight={700}>Truncating variants</tspan>: stopgain, stoploss</text>
      <text x={879} y={1488.7} fontSize={24} fontFamily={SANS} fill="#111"><tspan fontWeight={700} fill="#c95ba1">Other variants</tspan>: frameshift, splicing</text>
      <T x={764} y={1633.5} s={26} b a="middle" r={-90}>Mutation frequency</T>
      <T x={1854.7} y={1596} s={26.5} b a="middle" c={RED}>Arg278</T>
    </svg>
  );
}

export default function App() {
  return (
    <div style={{ position: 'absolute', left: 0, top: 0, width: 2000, height: 1956, background: '#fff', overflow: 'hidden', fontFamily: SANS }}>
      <Pedigree />
      <HbChart />

      {/* C : proband */}
      <SegRows rows={[[{ len: TOTAL, fill: 'none' }]]} top={911} step={206.5} barH={206} seps={edges(0.844)} sepColor="#efefef" />
      <SegRows rows={[seqRow, aaSegs(aaRow1), aaSegs(aaRow2), aaSegs(aaRow3)]} top={806} step={20.75} barH={17} />
      <SegRows rows={[[{ len: TOTAL, fill: '#00427f' }]]} top={938.4} step={9.1} barH={9.1} />
      <SegRows rows={[[gap(8.857), redFill(1.0)]]} top={993} step={16.5} barH={16.5} />
      <Coverage depth={probandDepth} bottom={1102.5} factor={2.529} innerLeft={(203 - 138) / 2.178 - BASE_PX} alt={{ index: 9, ref: 4, alt: 139 }} />
      <SegRows rows={probandReads} top={1118.9} step={13.6} barH={11.4} seps={edges(0.844)} />

      {/* C : father */}
      <SegRows rows={[[{ len: TOTAL, fill: 'none' }]]} top={1328} step={137} barH={137} seps={edges(0.883)} sepColor="#efefef" />
      <SegRows rows={[[gap(8.9), redFill(1.01)]]} top={1345.5} step={15.5} barH={15.5} />
      <Coverage depth={fatherDepth} bottom={1450.3} factor={2.32} innerLeft={(206 - 138) / 2.178 - BASE_PX} alt={{ index: 9, ref: 68, alt: 54 }} />
      <SegRows rows={fatherReads} top={1465.4} step={13.2} barH={10.8} seps={edges(0.883)} />

      {/* C : mother */}
      <SegRows rows={[[{ len: TOTAL, fill: 'none' }]]} top={1661.5} step={140} barH={140} seps={edges(0.026)} sepColor="#efefef" />
      <Coverage depth={motherDepth} bottom={1784.3} factor={2.32} innerLeft={1} />
      <SegRows rows={motherReads} top={1800.4} step={13.2} barH={10.8} seps={edges(0.026)} />
      <SegRows rows={[fRef]} top={1934.3} step={3} barH={3} seps={edges(0.026)} />

      <TealChart />
      <RatioChart />
      <Ideogram />
      <Lollipops />
      <Overlay />
    </div>
  );
}
